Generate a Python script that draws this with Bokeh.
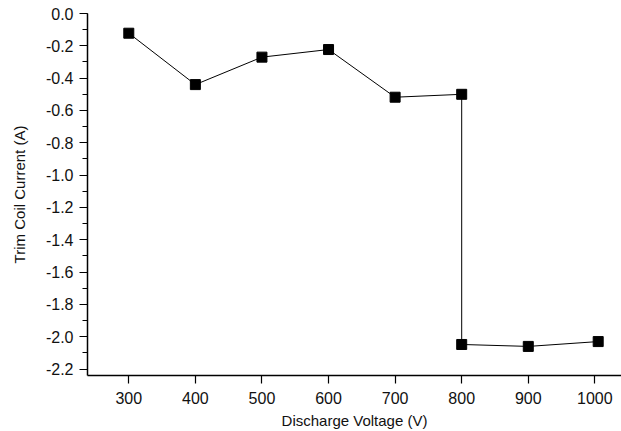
from bokeh.plotting import figure
from bokeh.models import Range1d, SingleIntervalTicker, FixedTicker, CustomJSTickFormatter
from bokeh.embed import file_html
from bokeh.resources import INLINE

voltage = [300, 400, 500, 600, 700, 800, 800, 900, 1005]
current = [-0.122, -0.44, -0.27, -0.223, -0.518, -0.50, -2.048, -2.06, -2.03]
x_ticks = [300, 400, 500, 600, 700, 800, 900, 1000]

FONT = "Liberation Sans"

p = figure(width=621, height=431, output_backend="svg", toolbar_location=None,
           x_range=Range1d(238, 1040), y_range=Range1d(-2.24, 0.0),
           min_border_left=87, min_border_right=0, min_border_top=13, min_border_bottom=56)
p.outline_line_color = None
p.xgrid.visible = False
p.ygrid.visible = False

p.line(voltage, current, line_color="black", line_width=1)
p.scatter(voltage, current, marker="square", size=10, fill_color="black", line_color="black")

p.xaxis.ticker = FixedTicker(ticks=x_ticks)
p.yaxis.ticker = SingleIntervalTicker(interval=0.2, num_minor_ticks=2)
p.xaxis.minor_tick_line_color = None

for ax in (p.xaxis, p.yaxis):
    ax.axis_line_width = 1.5
    ax.major_tick_line_width = 1.2
    ax.minor_tick_line_width = 1.2
    ax.major_tick_in = 0
    ax.minor_tick_in = 0
    ax.major_tick_out = 8
    ax.minor_tick_out = 5
    ax.major_label_text_font = FONT
    ax.major_label_text_font_size = "16px"
    ax.major_label_text_color = "#111111"
    ax.axis_label_text_font = FONT
    ax.axis_label_text_font_size = "15px"
    ax.axis_label_text_font_style = "normal"
    ax.axis_label_text_color = "#111111"

p.yaxis.major_label_standoff = 6
p.xaxis.major_label_standoff = 8
p.xaxis.axis_label_standoff = 5
p.yaxis.axis_label_standoff = 15
p.xaxis.axis_label = "Discharge Voltage (V)"
p.yaxis.axis_label = "Trim Coil Current (A)"
p.yaxis.formatter = CustomJSTickFormatter(code="return tick.toFixed(1);")

open("out.html", "w").write(file_html(p, INLINE))
